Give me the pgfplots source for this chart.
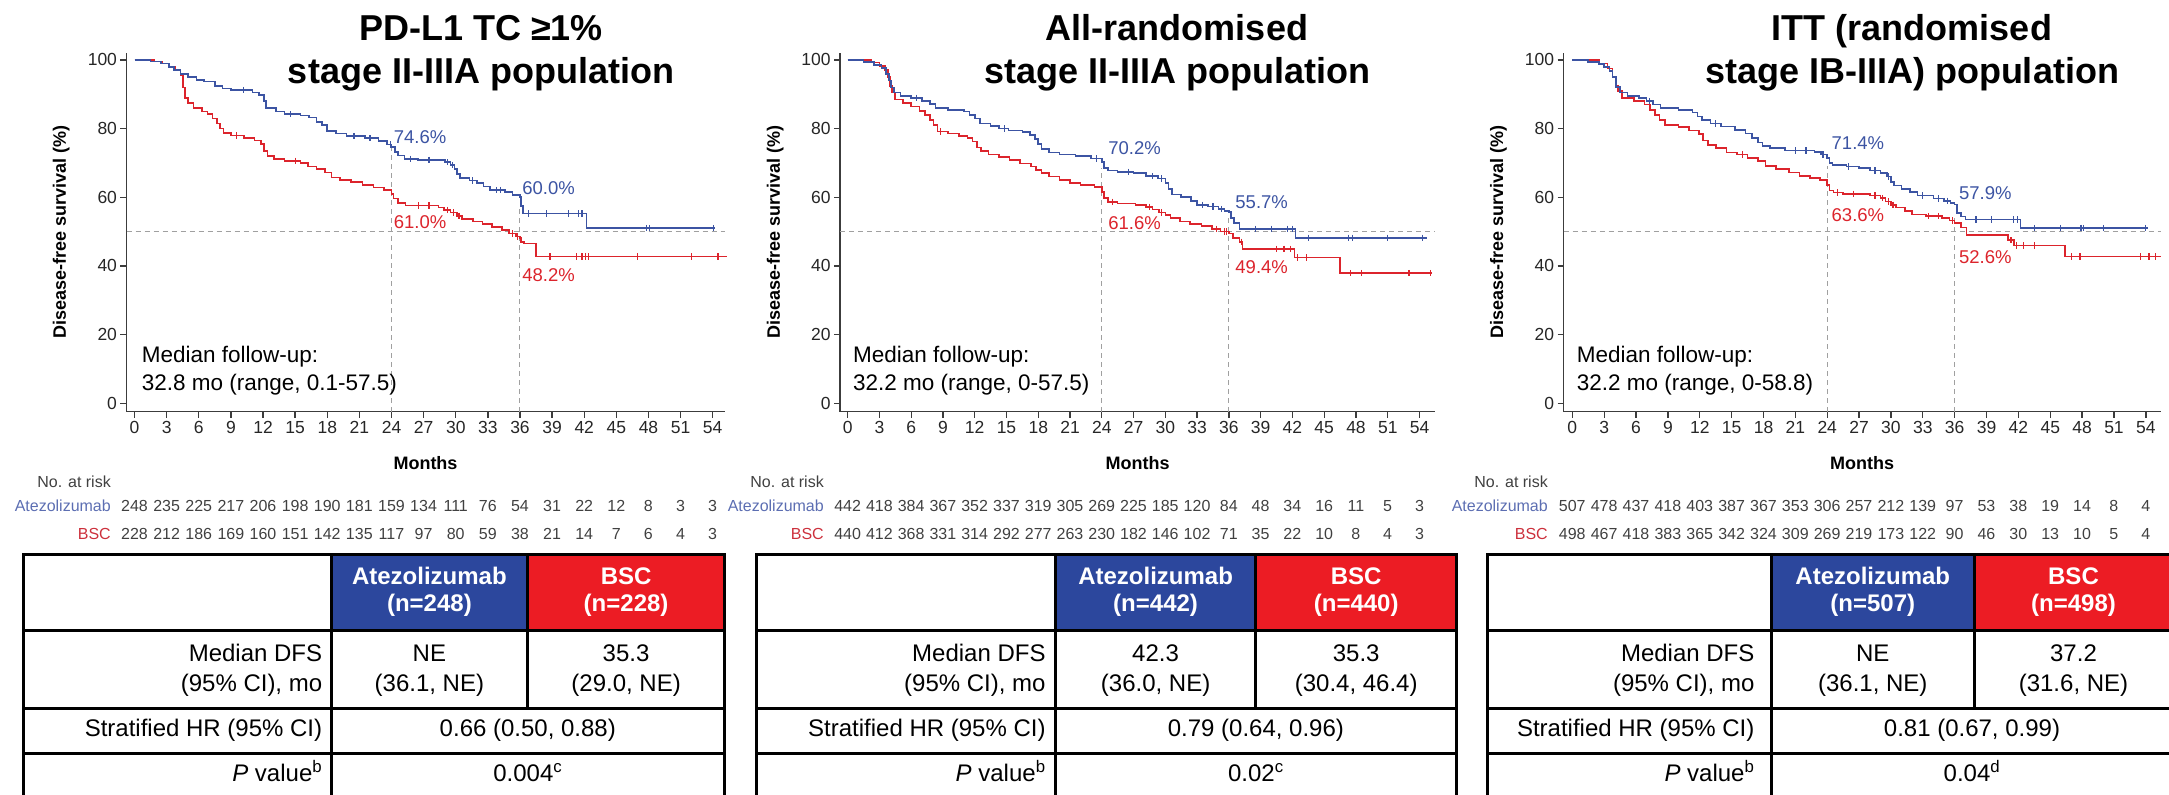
\documentclass[border=0pt]{standalone}
\usepackage{fontspec}
\setmainfont{Liberation Sans}
\usepackage{pgfplots}
\pgfplotsset{compat=1.18}

\definecolor{atezo}{RGB}{60,84,163}
\definecolor{bsc}{RGB}{220,36,44}
\definecolor{atezohead}{RGB}{44,71,157}
\definecolor{bschead}{RGB}{236,28,36}
\definecolor{atezolab}{RGB}{92,110,178}
\definecolor{bsclab}{RGB}{204,48,60}
\definecolor{refgray}{RGB}{160,160,160}
\definecolor{axisgray}{RGB}{60,60,60}

\newcommand\fsz[2]{\fontsize{#1bp}{#2bp}\selectfont}

\tikzset{
  refline/.style={refgray, line width=1bp, dash pattern=on 5bp off 4bp},
  pctlab/.style={anchor=west, font=\fsz{18.5}{20}, inner sep=0pt},
  fulab/.style={anchor=base west, font=\fsz{22.5}{26}, inner sep=0pt},
}

\pgfplotsset{
  kmaxis/.style={
    scale only axis,
    height=358.6bp,
    ymin=-2.45, ymax=102,
    axis x line*=bottom,
    axis y line*=left,
    axis line style={-, line width=1.3bp, axisgray},
    every outer x axis line/.append style={-},
    every outer y axis line/.append style={-},
    xtick={0,3,...,54},
    ytick={0,20,...,100},
    tick align=outside,
    major tick length=6bp,
    tick style={line width=1.3bp, axisgray},
    /pgf/number format/assume math mode=true,
    tick label style={font=\fsz{17.5}{20}, text=black!85},
    xlabel={Months},
    ylabel={Disease-free survival (\%)},
    every axis x label/.style={at={(axis description cs:0.5,0)}, anchor=center, yshift=-51.3bp, font=\fsz{18}{20}\bfseries},
    every axis y label/.style={at={(axis description cs:-0.109,0.5)}, anchor=center, rotate=90, font=\fsz{18}{20}\bfseries},
    clip=false,
  },
  atezoline/.style={const plot, no marks, color=atezo, line width=1.6bp},
  bscline/.style={const plot, no marks, color=bsc, line width=1.6bp},
  atezocens/.style={only marks, mark=|, mark size=3.2bp, color=atezo, mark options={line width=1.2bp}},
  bsccens/.style={only marks, mark=|, mark size=3.2bp, color=bsc, mark options={line width=1.2bp}},
}

\begin{document}
\begin{tikzpicture}
\useasboundingbox (0bp,0bp) rectangle (2169bp,-795bp);
\clip (0bp,0bp) rectangle (2169bp,-795bp);

% ---------------- Panel 1: PD-L1 TC >= 1%, stage II-IIIA ----------------
\begin{axis}[kmaxis, at={(126.5bp,-411.7bp)}, anchor=south west,
  width=598bp, xmin=-0.75, xmax=55.1]
\draw[refline] (axis cs:-0.75,50) -- (axis cs:55.1,50);
\draw[refline] (axis cs:24,-2.45) -- (axis cs:24,74.6);
\draw[refline] (axis cs:36,-2.45) -- (axis cs:36,57.3);
\addplot[bscline] coordinates {
(0,100) (1.8,99.5) (2.6,99) (3.2,98) (3.8,97) (4.3,95.5) (4.5,92) (4.7,89)
(5.0,87.5) (5.5,86) (6.3,85) (6.8,84.3) (7.3,83) (7.7,81.5) (8.0,80) (8.3,78.8)
(9.0,78) (10.2,77.3) (11.2,76.5) (11.8,75.5) (12.1,73.5) (12.4,72) (13.0,71.2)
(14.0,70.6) (15.5,70.0) (16.2,69.0) (17.0,68.2) (17.8,67.2) (18.4,65.8) (19.2,65.0)
(20.2,64.5) (21.3,63.6) (22.3,62.8) (23.3,62.2) (24.0,61.0) (24.2,59.6) (24.6,58.4)
(25.3,57.6) (28.4,57.0) (28.9,56.3) (29.5,55.6) (30.1,54.6) (30.6,53.6) (31.6,53.0)
(32.5,52.2) (33.4,51.4) (34.3,50.5) (35.0,49.5) (35.6,48.6) (36.0,48.2) (36.1,47.0)
(36.4,46.5) (37.5,42.7) (55.3,42.7)};
\addplot[atezoline] coordinates {
(0,100) (1.5,99.5) (2.5,99) (3.2,98) (3.7,97) (4.3,96) (5.0,95) (5.8,94.2) (6.5,93.7)
(7.5,92.5) (8.2,91.7) (9.0,91.2) (11.0,90.5) (11.6,89.8) (12.1,88) (12.3,86) (13.2,85)
(14.0,84.2) (15.5,83.8) (16.3,83.2) (17.0,82) (17.5,81) (18.0,79.3) (18.8,78.6)
(19.8,77.8) (21.5,77.2) (22.8,76.4) (23.6,75.4) (24.0,74.6) (24.3,73.2) (24.6,72.2)
(25.2,71.2) (26.5,70.9) (29.0,70.2) (29.5,69.4) (29.9,68.2) (30.1,66.8) (30.4,65.6)
(31.3,64.9) (32.0,64.1) (32.6,63.2) (33.2,62.1) (34.6,61.6) (35.3,60.6) (36.0,60.0)
(36.1,57.5) (36.3,55.3) (42.2,51.0) (54.2,51.0)};
\addplot[bsccens] coordinates {
(9.5,78) (15.0,70.6) (26.5,57.6) (27.5,57.6) (29.2,56.3) (29.8,55.6) (30.3,54.6)
(35.3,49.5) (35.8,48.6) (38.8,42.7) (41.3,42.7) (41.8,42.7) (42.1,42.7) (42.4,42.7)
(47,42.7) (52,42.7) (54.5,42.7)};
\addplot[atezocens] coordinates {
(10.2,91.2) (14.6,84.2) (20.5,77.8) (22,77.2) (23.9,75.4) (25.8,71.2) (27.5,70.9)
(29.2,70.2) (29.7,69.4) (31.6,64.9) (33.8,62.1) (34.2,62.1) (36.8,55.3) (38.5,55.3)
(40.5,55.3) (41.5,55.3) (41.8,55.3) (47.8,51) (48.1,51) (54.1,51)};
\node[pctlab, text=atezo] at (axis cs:24.2,77.6) {74.6\%};
\node[pctlab, text=atezo] at (axis cs:36.2,62.7) {60.0\%};
\node[pctlab, text=bsc] at (axis cs:24.2,52.8) {61.0\%};
\node[pctlab, text=bsc] at (axis cs:36.2,37.4) {48.2\%};
\node[fulab] at (axis cs:0.66,11.74) {Median follow-up:};
\node[fulab] at (axis cs:0.66,3.87) {32.8 mo (range, 0.1-57.5)};
\end{axis}

% ---------------- Panel 2: all-randomised stage II-IIIA ----------------
\begin{axis}[kmaxis, at={(840bp,-411.7bp)}, anchor=south west,
  width=595.4bp, xmin=-0.72, xmax=55.5]
\draw[refline] (axis cs:-0.72,50) -- (axis cs:55.5,50);
\draw[refline] (axis cs:24,-2.45) -- (axis cs:24,68.4);
\draw[refline] (axis cs:36,-2.45) -- (axis cs:36,54.4);
\addplot[bscline] coordinates {
(0,100) (2.2,99.3) (3.0,98.2) (3.5,97) (3.8,95) (4.0,92.5) (4.2,90.5) (4.5,88.5)
(5.2,87.5) (6.0,86.5) (6.8,85.2) (7.3,84) (7.8,82.5) (8.1,81) (8.5,79.2) (9.5,78.6)
(10.5,77.9) (11.3,77.2) (11.8,76.2) (12.2,74.5) (12.6,73.5) (13.3,72.5) (14.3,71.7)
(15.3,70.8) (16.3,69.9) (17.3,69.0) (17.8,68.0) (18.3,67.0) (19.0,66.0) (20.0,65.0)
(21.0,64.2) (22.0,63.6) (23.3,63.0) (24.0,61.6) (24.2,59.8) (24.6,58.7) (25.5,58.2)
(27.2,57.7) (28.2,57.2) (28.8,56.4) (29.4,55.6) (30.0,54.8) (30.5,53.9) (31.4,53.0)
(32.3,52.2) (33.4,51.6) (34.4,50.8) (35.2,50.0) (36.0,49.4) (36.4,48.2) (37.0,47.0)
(37.3,45.0) (42.2,42.5) (46.5,37.9) (55.2,37.9)};
\addplot[atezoline] coordinates {
(0,100) (1.5,99.4) (2.5,98.5) (3.2,97.6) (3.6,96) (3.9,94) (4.1,92) (4.4,90.5)
(5.0,89.5) (6.0,89.0) (7.0,88.0) (7.8,87.2) (8.3,86.0) (9.5,85.5) (11.0,85.0)
(11.5,84.0) (12.0,83.0) (12.5,81.5) (13.5,80.8) (14.3,80.0) (15.2,79.4) (16.5,79.0)
(17.2,78.2) (17.7,77.0) (18.0,75.5) (18.3,74.0) (19.0,73.0) (20.0,72.5) (21.5,72.0)
(23.0,71.3) (24.0,70.2) (24.2,68.6) (24.6,67.8) (25.5,67.4) (27.0,67.0) (28.2,66.2)
(29.3,65.5) (30.0,64.2) (30.3,62.4) (30.6,60.8) (31.5,60.0) (32.4,59.0) (33.0,57.8)
(34.0,57.3) (35.0,56.6) (35.6,56.0) (36.0,55.7) (36.2,54.0) (36.5,52.5) (37.0,50.8)
(42.3,48.2) (54.7,48.2)};
\addplot[bsccens] coordinates {
(8.8,79.2) (25,58.7) (28.5,57.2) (29.6,55.6) (34.8,50.8) (35.6,50) (35.8,50)
(37.2,47) (40.5,45) (41.2,45) (41.8,45) (42.5,42.5) (43.3,42.5) (47.5,37.9)
(48.5,37.9) (53,37.9) (55,37.9)};
\addplot[atezocens] coordinates {
(6.5,89) (14.8,80) (23.5,71.3) (26.5,67.4) (28.8,66.2) (29.6,65.5) (33.5,57.8)
(34.5,57.3) (35.3,56.6) (38.5,50.8) (40,50.8) (41.5,50.8) (42,50.8) (43.5,48.2)
(47.3,48.2) (47.7,48.2) (51,48.2) (54.3,48.2)};
\node[pctlab, text=atezo] at (axis cs:24.6,74.3) {70.2\%};
\node[pctlab, text=atezo] at (axis cs:36.6,58.7) {55.7\%};
\node[pctlab, text=bsc] at (axis cs:24.6,52.6) {61.6\%};
\node[pctlab, text=bsc] at (axis cs:36.6,39.8) {49.4\%};
\node[fulab] at (axis cs:0.5,11.74) {Median follow-up:};
\node[fulab] at (axis cs:0.5,3.87) {32.2 mo (range, 0-57.5)};
\end{axis}

% ---------------- Panel 3: ITT, stage IB-IIIA ----------------
\begin{axis}[kmaxis, at={(1563.5bp,-411.7bp)}, anchor=south west,
  width=597.2bp, xmin=-0.83, xmax=55.4]
\draw[refline] (axis cs:-0.83,50) -- (axis cs:55.4,50);
\draw[refline] (axis cs:24,-2.45) -- (axis cs:24,69);
\draw[refline] (axis cs:36,-2.45) -- (axis cs:36,54.9);
\addplot[bscline] coordinates {
(0,100) (2.5,99.0) (3.3,97.5) (3.8,95) (4.1,92.5) (4.3,91.0) (4.7,89.0) (5.8,88.0)
(6.8,87.0) (7.3,85.5) (7.8,84.0) (8.2,82.5) (8.7,81.0) (10.0,80.5) (11.0,79.5)
(11.9,78.5) (12.3,76.5) (12.8,75.2) (13.5,74.3) (14.5,73.1) (15.5,72.5) (16.5,71.5)
(17.5,70.5) (18.2,69.2) (19.2,68.2) (20.4,67.2) (21.4,66.2) (22.4,65.6) (23.3,65.0)
(24.0,63.6) (24.2,62.0) (24.6,61.4) (25.5,61.0) (28.0,60.5) (29.0,59.8) (29.5,58.8)
(30.0,57.8) (30.5,57.0) (31.3,56.0) (32.0,55.0) (33.3,54.5) (34.8,54.0) (35.5,53.2)
(36.0,52.6) (36.6,51.2) (37.1,49.0) (41.0,47.5) (41.6,46.0) (46.4,42.7) (55.4,42.7)};
\addplot[atezoline] coordinates {
(0,100) (1.5,99.4) (2.5,98.8) (3.0,98.0) (3.5,96.8) (3.8,95) (4.1,92.2) (4.5,90.5)
(5.2,89.5) (6.3,89.0) (7.0,88.0) (7.6,87.0) (8.3,86.0) (10.0,85.5) (11.3,84.7)
(11.8,83.5) (12.2,82.5) (13.0,81.5) (14.0,80.6) (15.3,79.6) (16.3,78.6) (16.9,77.2)
(17.5,76.0) (17.9,75.0) (18.6,74.4) (20.0,73.6) (22.8,73.2) (23.4,72.5) (24.0,71.4)
(24.2,70.0) (24.5,69.4) (25.8,69.0) (27.0,68.5) (28.0,67.8) (29.0,67.0) (29.6,66.0)
(30.0,64.5) (30.3,63.4) (31.0,62.5) (31.8,61.5) (32.5,60.5) (34.0,59.6) (35.0,59.0)
(35.6,58.4) (36.0,57.9) (36.2,55.5) (36.6,54.4) (37.0,53.5) (42.2,51.0) (54.2,51.0)};
\addplot[bsccens] coordinates {
(16,72.5) (25,61.4) (26.5,61) (28.5,60.5) (29.2,59.8) (29.8,58.8) (30.2,57.8)
(33.5,54.5) (34.5,54.5) (35.8,53.2) (41.3,47.5) (41.8,46) (42.5,46) (43.5,46)
(47,42.7) (47.8,42.7) (53.5,42.7) (54.3,42.7) (54.9,42.7)};
\addplot[atezocens] coordinates {
(7.3,88) (13.5,81.5) (21,73.6) (22,73.6) (23.6,72.5) (26,69) (28.5,67.8) (29.8,66)
(33,60.5) (34.5,59.6) (35.3,59) (38,53.5) (39.5,53.5) (41.5,53.5) (41.9,53.5)
(43.5,51) (46,51) (47.9,51) (48.1,51) (50,51) (54,51)};
\node[pctlab, text=atezo] at (axis cs:24.4,75.9) {71.4\%};
\node[pctlab, text=atezo] at (axis cs:36.4,61.2) {57.9\%};
\node[pctlab, text=bsc] at (axis cs:24.4,54.7) {63.6\%};
\node[pctlab, text=bsc] at (axis cs:36.4,42.7) {52.6\%};
\node[fulab] at (axis cs:0.4,11.74) {Median follow-up:};
\node[fulab] at (axis cs:0.4,3.87) {32.2 mo (range, 0-58.8)};
\end{axis}

% ---------------- titles, numbers at risk and summary tables ----------------
\begin{scope}[x=1bp, y=-1bp]
  % titles
  \begin{scope}[every node/.style={anchor=base, inner sep=0pt, font=\fsz{36}{40}\bfseries}]
    \node at (481,40.5) {PD-L1 TC ≥1\%};
    \node at (481,83.5) {stage II-IIIA population};
    \node at (1177,40.5) {All-randomised};
    \node at (1177,83.5) {stage II-IIIA population};
    \node at (1912,40.5) {ITT (randomised};
    \node at (1912,83.5) {stage IB-IIIA) population};
  \end{scope}

  % numbers at risk
  \begin{scope}[every node/.style={anchor=base, inner sep=0pt, font=\fsz{16}{18}}]
    \node[anchor=base east, text=black!75] at (111,487.5) {No. at risk};
    \node[anchor=base east, text=atezolab] at (111,511) {Atezolizumab};
    \node[anchor=base east, text=bsclab] at (111,539) {BSC};
    \foreach \v [count=\i from 0] in {248,235,225,217,206,198,190,181,159,134,111,76,54,31,22,12,8,3,3}
      \node[text=black!75] at ({134.5+32.12*\i},511) {\v};
    \foreach \v [count=\i from 0] in {228,212,186,169,160,151,142,135,117,97,80,59,38,21,14,7,6,4,3}
      \node[text=black!75] at ({134.5+32.12*\i},539) {\v};

    \node[anchor=base east, text=black!75] at (824,487.5) {No. at risk};
    \node[anchor=base east, text=atezolab] at (824,511) {Atezolizumab};
    \node[anchor=base east, text=bsclab] at (824,539) {BSC};
    \foreach \v [count=\i from 0] in {442,418,384,367,352,337,319,305,269,225,185,120,84,48,34,16,11,5,3}
      \node[text=black!75] at ({847.6+31.77*\i},511) {\v};
    \foreach \v [count=\i from 0] in {440,412,368,331,314,292,277,263,230,182,146,102,71,35,22,10,8,4,3}
      \node[text=black!75] at ({847.6+31.77*\i},539) {\v};

    \node[anchor=base east, text=black!75] at (1548,487.5) {No. at risk};
    \node[anchor=base east, text=atezolab] at (1548,511) {Atezolizumab};
    \node[anchor=base east, text=bsclab] at (1548,539) {BSC};
    \foreach \v [count=\i from 0] in {507,478,437,418,403,387,367,353,306,257,212,139,97,53,38,19,14,8,4}
      \node[text=black!75] at ({1572.3+31.86*\i},511) {\v};
    \foreach \v [count=\i from 0] in {498,467,418,383,365,342,324,309,269,219,173,122,90,46,30,13,10,5,4}
      \node[text=black!75] at ({1572.3+31.86*\i},539) {\v};
  \end{scope}

  % summary tables
  \begin{scope}[every node/.style={anchor=base, inner sep=0pt, font=\fsz{24}{28}},
                tline/.style={line width=3bp}]
    % table 1
    \fill[atezohead] (331,554) rectangle (527.7,630.7);
    \fill[bschead] (527.7,554) rectangle (724.5,630.7);
    \node[text=white, font=\fsz{24}{28}\bfseries] at (429.4,584.5) {Atezolizumab};
    \node[text=white, font=\fsz{24}{28}\bfseries] at (429.4,611.7) {(n=248)};
    \node[text=white, font=\fsz{24}{28}\bfseries] at (626.1,584.5) {BSC};
    \node[text=white, font=\fsz{24}{28}\bfseries] at (626.1,611.7) {(n=228)};
    \node[anchor=base east] at (322.4,661.5) {Median DFS};
    \node[anchor=base east] at (322.4,691.5) {(95\% CI), mo};
    \node at (429.4,661.5) {NE};
    \node at (429.4,691.5) {(36.1, NE)};
    \node at (626.1,661.5) {35.3};
    \node at (626.1,691.5) {(29.0, NE)};
    \node[anchor=base east] at (322.4,736) {Stratified HR (95\% CI)};
    \node at (527.8,736) {0.66 (0.50, 0.88)};
    \node[anchor=base east] at (322.4,781.5) {\textit{P} value\textsuperscript{b}};
    \node at (527.8,781.5) {0.004\textsuperscript{c}};
    \draw[tline] (23.6,800) -- (23.6,554) -- (724.5,554) -- (724.5,800);
    \draw[tline] (23.6,630.7) -- (724.5,630.7);
    \draw[tline] (23.6,708.3) -- (724.5,708.3);
    \draw[tline] (23.6,753.3) -- (724.5,753.3);
    \draw[tline] (331,554) -- (331,800);
    \draw[tline] (527.7,554) -- (527.7,708.3);

    % table 2
    \fill[atezohead] (1055.3,554) rectangle (1255.9,630.7);
    \fill[bschead] (1255.9,554) rectangle (1456.4,630.7);
    \node[text=white, font=\fsz{24}{28}\bfseries] at (1155.6,584.5) {Atezolizumab};
    \node[text=white, font=\fsz{24}{28}\bfseries] at (1155.6,611.7) {(n=442)};
    \node[text=white, font=\fsz{24}{28}\bfseries] at (1356.2,584.5) {BSC};
    \node[text=white, font=\fsz{24}{28}\bfseries] at (1356.2,611.7) {(n=440)};
    \node[anchor=base east] at (1045.8,661.5) {Median DFS};
    \node[anchor=base east] at (1045.8,691.5) {(95\% CI), mo};
    \node at (1155.6,661.5) {42.3};
    \node at (1155.6,691.5) {(36.0, NE)};
    \node at (1356.2,661.5) {35.3};
    \node at (1356.2,691.5) {(30.4, 46.4)};
    \node[anchor=base east] at (1045.8,736) {Stratified HR (95\% CI)};
    \node at (1255.9,736) {0.79 (0.64, 0.96)};
    \node[anchor=base east] at (1045.8,781.5) {\textit{P} value\textsuperscript{b}};
    \node at (1255.9,781.5) {0.02\textsuperscript{c}};
    \draw[tline] (756.5,800) -- (756.5,554) -- (1456.4,554) -- (1456.4,800);
    \draw[tline] (756.5,630.7) -- (1456.4,630.7);
    \draw[tline] (756.5,708.3) -- (1456.4,708.3);
    \draw[tline] (756.5,753.3) -- (1456.4,753.3);
    \draw[tline] (1055.3,554) -- (1055.3,800);
    \draw[tline] (1255.9,554) -- (1255.9,708.3);

    % table 3
    \fill[atezohead] (1771.3,554) rectangle (1974.3,630.7);
    \fill[bschead] (1974.3,554) rectangle (2177,630.7);
    \node[text=white, font=\fsz{24}{28}\bfseries] at (1872.8,584.5) {Atezolizumab};
    \node[text=white, font=\fsz{24}{28}\bfseries] at (1872.8,611.7) {(n=507)};
    \node[text=white, font=\fsz{24}{28}\bfseries] at (2073.5,584.5) {BSC};
    \node[text=white, font=\fsz{24}{28}\bfseries] at (2073.5,611.7) {(n=498)};
    \node[anchor=base east] at (1754.6,661.5) {Median DFS};
    \node[anchor=base east] at (1754.6,691.5) {(95\% CI), mo};
    \node at (1872.8,661.5) {NE};
    \node at (1872.8,691.5) {(36.1, NE)};
    \node at (2073.5,661.5) {37.2};
    \node at (2073.5,691.5) {(31.6, NE)};
    \node[anchor=base east] at (1754.6,736) {Stratified HR (95\% CI)};
    \node at (1972,736) {0.81 (0.67, 0.99)};
    \node[anchor=base east] at (1754.6,781.5) {\textit{P} value\textsuperscript{b}};
    \node at (1972,781.5) {0.04\textsuperscript{d}};
    \draw[tline] (1487.9,800) -- (1487.9,554) -- (2177,554) -- (2177,800);
    \draw[tline] (1487.9,630.7) -- (2177,630.7);
    \draw[tline] (1487.9,708.3) -- (2177,708.3);
    \draw[tline] (1487.9,753.3) -- (2177,753.3);
    \draw[tline] (1771.3,554) -- (1771.3,800);
    \draw[tline] (1974.3,554) -- (1974.3,708.3);
  \end{scope}
\end{scope}
\end{tikzpicture}
\end{document}
